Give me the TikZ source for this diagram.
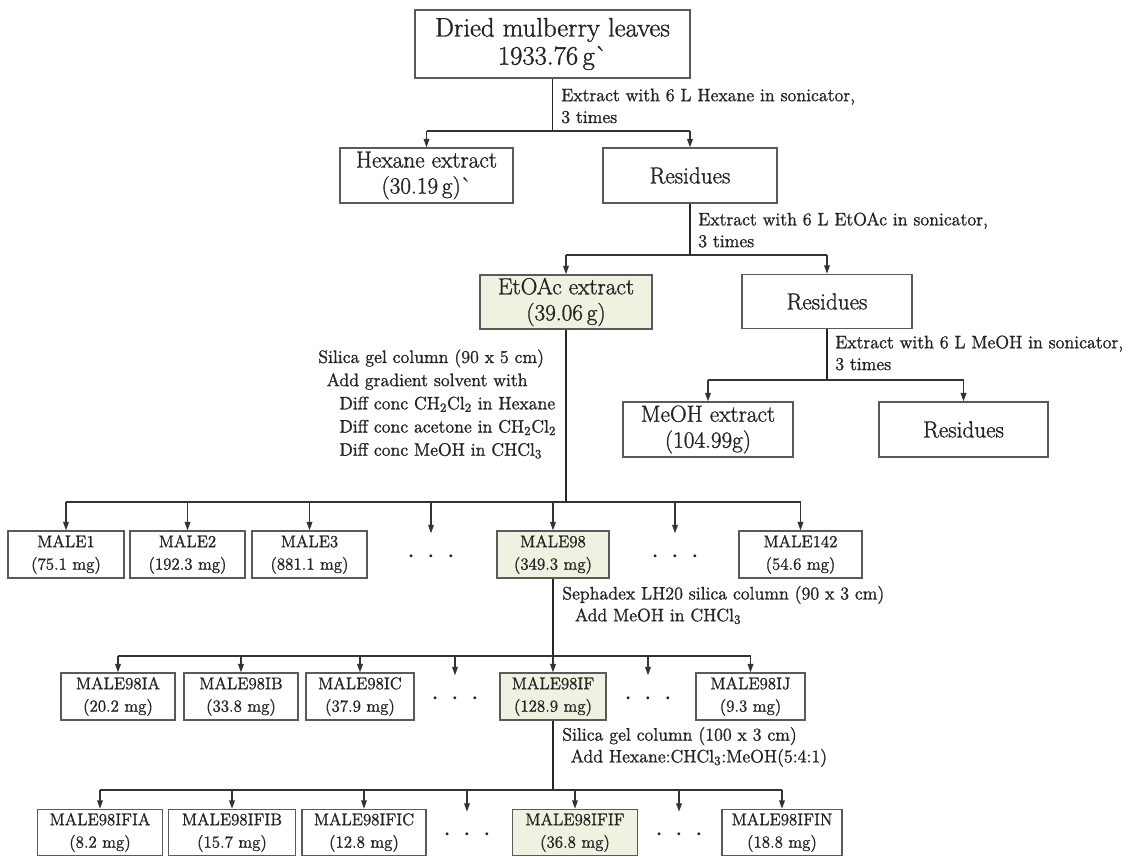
\documentclass[tikz,border=0pt]{standalone}
\usepackage{fontspec}
\usetikzlibrary{arrows.meta}

\definecolor{boxline}{RGB}{90,90,90}
\definecolor{shade}{RGB}{238,242,224}
\definecolor{ink}{RGB}{35,35,35}

\newfontfamily\chartfont{Latin Modern Roman}[FakeBold=1.2]

\begin{document}
\begin{tikzpicture}[x=0.025cm,y=-0.025cm,
    box/.style={draw=boxline,line width=1pt,text=ink,inner sep=0pt,align=center},
    bigbox/.style={box,font=\chartfont\fontsize{16.5}{18.5}\selectfont,minimum height=1.37cm},
    frac/.style={box,font=\chartfont\fontsize{12}{16}\selectfont,minimum height=1.17cm},
    note/.style={text=ink,align=left,anchor=west,inner sep=0pt,font=\chartfont\fontsize{12.8}{15.5}\selectfont},
    dots/.style={text=ink,inner sep=0pt,minimum height=1.17cm,font=\fontsize{7}{7}\selectfont},
    stem/.style={line width=1.4pt,black!85},
    bus/.style={line width=1pt,black!80},
    arr/.style={bus,-{Triangle[length=6pt,width=4pt]}}]

    \path[use as bounding box,fill=white] (0,0) rectangle (1136,856);

    % raw material and first extraction
    \node[box,font=\chartfont\fontsize{19}{20}\selectfont,minimum width=6.88cm,minimum height=1.7cm] (leaves) at (552.5,44) {Dried mulberry leaves\\1933.76\,g\textasciigrave};
    \node[bigbox,minimum width=4.33cm] (hexane) at (426.5,175.5) {Hexane extract\\(30.19\,g)\textasciigrave};
    \node[bigbox,minimum width=4.35cm] (res1) at (690,175.5) {Residues};
    \node[note] (ext1) at (561,106) {Extract with 6 L Hexane in sonicator,\\3 times};

    \coordinate (b1) at (552.5,131);
    \draw[stem] (leaves.south) -- (b1);
    \draw[bus] (hexane.north |- b1) -- (res1.north |- b1);
    \draw[arr] (hexane.north |- b1) -- (hexane.north);
    \draw[arr] (res1.north |- b1) -- (res1.north);

    % second extraction
    \node[bigbox,fill=shade,minimum width=4.3cm,minimum height=1.35cm] (etoac) at (566,302) {EtOAc extract\\(39.06\,g)};
    \node[bigbox,minimum width=4.25cm,minimum height=1.35cm] (res2) at (827,301.5) {Residues};
    \node[note] (ext2) at (698,230) {Extract with 6 L EtOAc in sonicator,\\3 times};

    \coordinate (b2) at (690,255);
    \draw[stem] (res1.south) -- (b2);
    \draw[bus] (etoac.north |- b2) -- (res2.north |- b2);
    \draw[arr] (etoac.north |- b2) -- (etoac.north);
    \draw[arr] (res2.north |- b2) -- (res2.north);

    % third extraction
    \node[bigbox,minimum width=4.25cm] (meoh) at (708,429.5) {MeOH extract\\(104.99g)};
    \node[bigbox,minimum width=4.23cm] (res3) at (963.5,429.5) {Residues};
    \node[note] (ext3) at (835,353) {Extract with 6 L MeOH in sonicator,\\3 times};

    \coordinate (b3) at (827,380);
    \draw[stem] (res2.south) -- (b3);
    \draw[bus] (meoh.north |- b3) -- (res3.north |- b3);
    \draw[arr] (meoh.north |- b3) -- (meoh.north);
    \draw[arr] (res3.north |- b3) -- (res3.north);

    % silica gel column of the EtOAc extract
    \node[note,font=\chartfont\fontsize{12.8}{16.5}\selectfont] (col1) at (318,404) {Silica gel column (90 x 5 cm)\\\hspace*{6pt}Add gradient solvent with\\\hspace*{15pt}Diff conc CH\textsubscript{2}Cl\textsubscript{2} in Hexane\\\hspace*{15pt}Diff conc acetone in CH\textsubscript{2}Cl\textsubscript{2}\\\hspace*{15pt}Diff conc MeOH in CHCl\textsubscript{3}};

    \node[frac,minimum width=2.9cm] (m1) at (66,554.5) {MALE1\\(75.1 mg)};
    \node[frac,minimum width=2.88cm] (m2) at (187.5,554.5) {MALE2\\(192.3 mg)};
    \node[frac,minimum width=2.88cm] (m3) at (309.5,554.5) {MALE3\\(881.1 mg)};
    \node[dots] (d1) at (431,557) {\textbullet\hspace{8pt}\textbullet\hspace{8pt}\textbullet};
    \node[frac,fill=shade,minimum width=2.8cm] (m98) at (553,554.5) {MALE98\\(349.3 mg)};
    \node[dots] (d2) at (675,557) {\textbullet\hspace{8pt}\textbullet\hspace{8pt}\textbullet};
    \node[frac,minimum width=3.08cm] (m142) at (800.5,554.5) {MALE142\\(54.6 mg)};

    \coordinate (b4) at (566,502);
    \draw[stem] (etoac.south) -- (b4);
    \draw[bus] (m1.north |- b4) -- (m142.north |- b4);
    \draw[arr] (m1.north |- b4) -- (m1.north);
    \draw[arr] (m2.north |- b4) -- (m2.north);
    \draw[arr] (m3.north |- b4) -- (m3.north);
    \draw[arr] (d1.north |- b4) -- (d1.north);
    \draw[arr] (m98.north |- b4) -- (m98.north);
    \draw[arr] (d2.north |- b4) -- (d2.north);
    \draw[arr] (m142.north |- b4) -- (m142.north);

    % Sephadex column of MALE98
    \node[note] (col2) at (562,605) {Sephadex LH20 silica column (90 x 3 cm)\\\hspace*{9pt}Add MeOH in CHCl\textsubscript{3}};

    \node[frac,minimum width=2.85cm] (ia) at (118,696.5) {MALE98IA\\(20.2 mg)};
    \node[frac,minimum width=2.85cm] (ib) at (241,696.5) {MALE98IB\\(33.8 mg)};
    \node[frac,minimum width=2.7cm] (ic) at (360,696.5) {MALE98IC\\(37.9 mg)};
    \node[dots] (d3) at (455,699) {\textbullet\hspace{8pt}\textbullet\hspace{8pt}\textbullet};
    \node[frac,fill=shade,minimum width=2.65cm] (if) at (553,696.5) {MALE98IF\\(128.9 mg)};
    \node[dots] (d4) at (648,699) {\textbullet\hspace{8pt}\textbullet\hspace{8pt}\textbullet};
    \node[frac,minimum width=2.72cm] (ij) at (750.5,696.5) {MALE98IJ\\(9.3 mg)};

    \coordinate (b5) at (553,656);
    \draw[stem] (m98.south) -- (b5);
    \draw[bus] (ia.north |- b5) -- (ij.north |- b5);
    \draw[arr] (ia.north |- b5) -- (ia.north);
    \draw[arr] (ib.north |- b5) -- (ib.north);
    \draw[arr] (ic.north |- b5) -- (ic.north);
    \draw[arr] (d3.north |- b5) -- (d3.north);
    \draw[arr] (if.north |- b5) -- (if.north);
    \draw[arr] (d4.north |- b5) -- (d4.north);
    \draw[arr] (ij.north |- b5) -- (ij.north);

    % silica gel column of MALE98IF
    \node[note] (col3) at (562,747) {Silica gel column (100 x 3 cm)\\\hspace*{6pt}Add Hexane:CHCl\textsubscript{3}:MeOH(5:4:1)};

    \node[frac,minimum width=3.12cm,minimum height=1.15cm] (ifia) at (100,832.5) {MALE98IFIA\\(8.2 mg)};
    \node[frac,minimum width=3.17cm,minimum height=1.15cm] (ifib) at (232,832.5) {MALE98IFIB\\(15.7 mg)};
    \node[frac,minimum width=3.1cm,minimum height=1.15cm] (ific) at (364,832.5) {MALE98IFIC\\(12.8 mg)};
    \node[dots,minimum height=1.15cm] (d5) at (467,835) {\textbullet\hspace{8pt}\textbullet\hspace{8pt}\textbullet};
    \node[frac,fill=shade,minimum width=3.12cm,minimum height=1.15cm] (ifif) at (575,832.5) {MALE98IFIF\\(36.8 mg)};
    \node[dots,minimum height=1.15cm] (d6) at (679,835) {\textbullet\hspace{8pt}\textbullet\hspace{8pt}\textbullet};
    \node[frac,minimum width=3.0cm,minimum height=1.15cm] (ifin) at (782,832.5) {MALE98IFIN\\(18.8 mg)};

    \coordinate (b6) at (553,790);
    \draw[stem] (if.south) -- (b6);
    \draw[bus] (ifia.north |- b6) -- (ifin.north |- b6);
    \draw[arr] (ifia.north |- b6) -- (ifia.north);
    \draw[arr] (ifib.north |- b6) -- (ifib.north);
    \draw[arr] (ific.north |- b6) -- (ific.north);
    \draw[arr] (d5.north |- b6) -- (d5.north);
    \draw[arr] (ifif.north |- b6) -- (ifif.north);
    \draw[arr] (d6.north |- b6) -- (d6.north);
    \draw[arr] (ifin.north |- b6) -- (ifin.north);

\end{tikzpicture}
\end{document}
